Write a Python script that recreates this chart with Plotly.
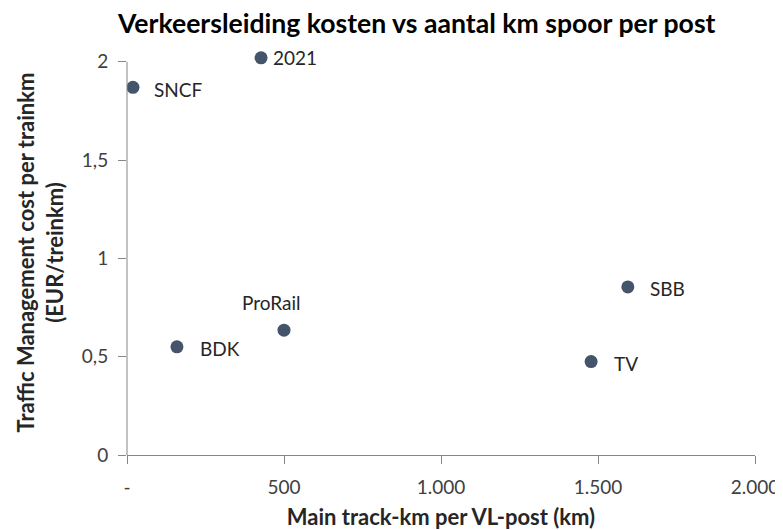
import plotly.graph_objects as go

names = ["SNCF", "2021", "BDK", "ProRail", "SBB", "TV"]
track_km = [19, 427, 159, 500, 1595, 1478]
cost = [1.87, 2.02, 0.55, 0.635, 0.855, 0.475]

x_ticks = [0, 500, 1000, 1500, 2000]
x_ticktext = ["-", "500", "1.000", "1.500", "2.000"]
y_ticks = [0, 0.5, 1, 1.5, 2]
y_ticktext = ["0", "0,5", "1", "1,5", "2"]

# label placement (xanchor, yanchor, xshift, yshift) per point
label_pos = {
    "SNCF": ("left", "middle", 19, -2),
    "2021": ("left", "middle", 10, 0),
    "BDK": ("left", "middle", 21, -2),
    "ProRail": ("center", "middle", -13, 28),
    "SBB": ("left", "middle", 20, -2),
    "TV": ("left", "middle", 21, -2),
}

FONT = "Lato, 'Open Sans', sans-serif"
AXIS_COLOR = "#868686"

fig = go.Figure()
fig.add_trace(go.Scatter(
    x=track_km, y=cost, mode="markers",
    marker=dict(size=13, color="#44546A"),
    hoverinfo="text", hovertext=names, showlegend=False,
))

for n, xv, yv in zip(names, track_km, cost):
    xa, ya, xs, ys = label_pos[n]
    fig.add_annotation(x=xv, y=yv, text=n, showarrow=False,
                       xanchor=xa, yanchor=ya, xshift=xs, yshift=ys,
                       font=dict(family=FONT, size=19, color="#262626"))

# vertical axis line only from 0 to the top tick
fig.add_shape(type="line", xref="paper", yref="y", x0=0, x1=0,
              y0=y_ticks[0], y1=y_ticks[-1],
              line=dict(color=AXIS_COLOR, width=1))

axis_common = dict(
    showgrid=False, zeroline=False, linecolor=AXIS_COLOR,
    linewidth=1, ticks="outside", ticklen=8, tickcolor=AXIS_COLOR,
    automargin=False,
    tickfont=dict(family=FONT, size=19, color="#404040"),
)

fig.update_layout(
    width=783, height=530,
    margin=dict(l=119, r=36, t=42, b=83),
    paper_bgcolor="white", plot_bgcolor="white",
    title=dict(text="<b>Verkeersleiding kosten vs aantal km spoor per post</b>",
               x=0.522, xanchor="center", y=0.971, yanchor="middle",
               font=dict(family=FONT, size=26.6, color="#000000")),
    xaxis=dict(range=[0, 2000], tickvals=x_ticks, ticktext=x_ticktext,
               showline=True, ticklabelstandoff=7,
               title=dict(text="<b>Main track-km per VL-post (km)</b>", standoff=12,
                          font=dict(family=FONT, size=22, color="#262626")),
               **axis_common),
    yaxis=dict(range=[0, 2.06], tickvals=y_ticks, ticktext=y_ticktext,
               showline=False, ticklabelstandoff=6,
               title=dict(text="<b>Traffic Management cost per trainkm<br>(EUR/treinkm)</b>",
                          standoff=12,
                          font=dict(family=FONT, size=22, color="#262626")),
               **axis_common),
)

fig.write_html("out.html")
